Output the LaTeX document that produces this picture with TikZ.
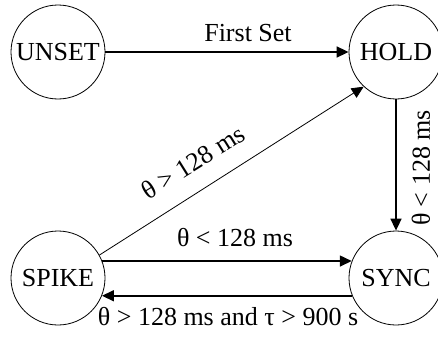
\documentclass[tikz,border=0pt]{standalone}
\usepackage{fontspec}
\setmainfont{Liberation Serif}
\usetikzlibrary{arrows.meta}
\begin{document}
\begin{tikzpicture}[x=1pt,y=-1pt,
  state/.style={circle,draw=black,line width=0.8pt,minimum size=94pt,inner sep=0pt,font=\fontsize{26}{30}\selectfont},
  trans/.style={line width=1.6pt,-{Triangle[length=12pt,width=11pt]}},
  thin trans/.style={line width=0.8pt,-{Triangle[length=12pt,width=11pt]}},
  lbl/.style={font=\fontsize{26}{30}\selectfont,inner sep=0pt}]
\useasboundingbox (0,0) rectangle (438,337);
\node[state] (unset) at (58,52) {UNSET};
\node[state] (hold) at (396,52) {HOLD};
\node[state] (spike) at (58,278) {SPIKE};
\node[state] (sync) at (396,278) {SYNC};
\draw[trans] (unset) -- (hold);
\node[lbl] (l1) at (248,33) {First Set};
\draw[trans] (hold) -- (sync);
\node[lbl,rotate=90] (l2) at (421,168) {θ < 128 ms};
\draw[thin trans] (spike.29) -- (hold.227);
\node[lbl,rotate=32] (l3) at (193,162) {θ > 128 ms};
\draw[trans] (spike.21) -- (sync.159);
\node[lbl] (l4) at (235,238) {θ < 128 ms};
\draw[trans] (sync.202) -- (spike.-22);
\node[lbl] (l5) at (228,317) {θ > 128 ms and τ > 900 s};
\end{tikzpicture}
\end{document}
